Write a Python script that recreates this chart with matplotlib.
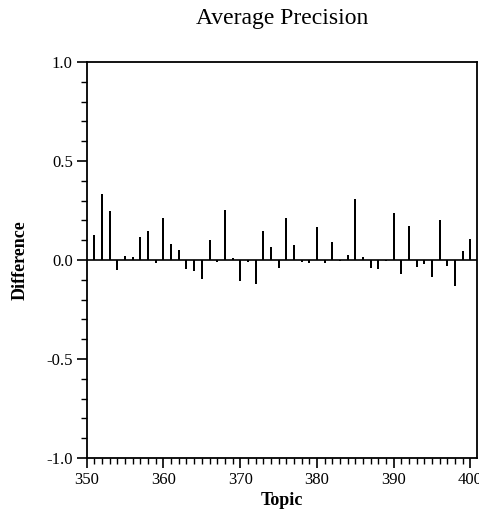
import matplotlib
matplotlib.use("Agg")
import matplotlib.pyplot as plt
from matplotlib.ticker import MultipleLocator, FormatStrFormatter

topics = list(range(351, 401))
diffs = [0.125, 0.333, 0.246, -0.050, 0.020, 0.015, 0.116, 0.148, -0.015, 0.210,
         0.079, 0.049, -0.047, -0.055, -0.096, 0.100, -0.010, 0.253, 0.012, -0.108,
         -0.012, -0.123, 0.148, 0.064, -0.040, 0.210, 0.078, -0.008, -0.017, 0.164,
         -0.015, 0.091, -0.005, 0.024, 0.310, 0.017, -0.040, -0.047, -0.003, 0.239,
         -0.071, 0.174, -0.038, -0.022, -0.084, 0.200, -0.032, -0.131, 0.045, 0.105]

plt.rcParams['font.family'] = ['Liberation Serif', 'DejaVu Serif']

fig = plt.figure(figsize=(4.79, 5.12), dpi=100)
ax = fig.add_axes([0.181, 0.1055, 0.814, 0.7735])

ax.vlines(topics, 0, diffs, color='black', linewidth=1.44, capstyle='butt')
ax.axhline(0, color='black', linewidth=1.2)

ax.set_xlim(350, 400.8)
ax.set_ylim(-1.0, 1.0)
ax.xaxis.set_major_locator(MultipleLocator(10))
ax.xaxis.set_minor_locator(MultipleLocator(1))
ax.yaxis.set_major_locator(MultipleLocator(0.5))
ax.yaxis.set_minor_locator(MultipleLocator(0.1))
ax.yaxis.set_major_formatter(FormatStrFormatter('%.1f'))

ax.tick_params(which='major', direction='out', length=7, width=1.2, labelsize=12, pad=3)
ax.tick_params(which='minor', direction='out', length=4, width=1.0)
ax.tick_params(top=False, right=False, which='both')
for s in ax.spines.values():
    s.set_linewidth(1.3)

ax.set_title('Average Precision', fontsize=17, pad=27)
ax.set_xlabel('Topic', fontsize=13, fontweight='bold', labelpad=3)
ax.set_ylabel('Difference', fontsize=13, fontweight='bold', labelpad=13)

fig.savefig('out.png', dpi=100)
